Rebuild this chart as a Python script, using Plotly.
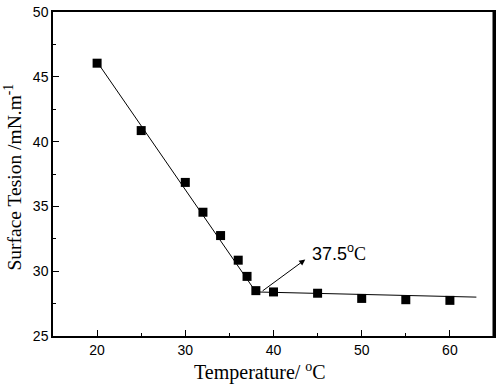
import plotly.graph_objects as go

temperature = [20, 25, 30, 32, 34, 36, 37, 38, 40, 45, 50, 55, 60]
surface_tension = [46.05, 40.85, 36.85, 34.55, 32.75, 30.85, 29.6, 28.5, 28.4, 28.3, 27.9, 27.8, 27.75]

fit1_x = [20, 38]
fit1_y = [46.15, 28.4]
fit2_x = [38, 63]
fit2_y = [28.4, 28.0]

arrow_tail = (38.6, 28.4)
arrow_head = (43.6, 30.9)
label_pos = (47.4, 31.45)

x_ticks = [20, 30, 40, 50, 60]
y_ticks = [25, 30, 35, 40, 45, 50]

fig = go.Figure()
fig.add_trace(go.Scatter(x=fit1_x, y=fit1_y, mode="lines",
                         line=dict(color="black", width=1), showlegend=False))
fig.add_trace(go.Scatter(x=fit2_x, y=fit2_y, mode="lines",
                         line=dict(color="black", width=1), showlegend=False))
fig.add_trace(go.Scatter(x=temperature, y=surface_tension, mode="markers",
                         marker=dict(symbol="square", size=9, color="black"),
                         showlegend=False))

fig.add_annotation(x=arrow_head[0], y=arrow_head[1], ax=arrow_tail[0], ay=arrow_tail[1],
                   xref="x", yref="y", axref="x", ayref="y", text="",
                   showarrow=True, arrowhead=2, arrowsize=1.2, arrowwidth=1, arrowcolor="black")
fig.add_annotation(x=label_pos[0], y=label_pos[1], xref="x", yref="y", showarrow=False,
                   text="37.5<sup>o</sup><span style='font-family:Liberation Serif'>C</span>",
                   font=dict(family="Liberation Sans", size=18, color="black"))

fig.add_annotation(x=0.47, y=-0.11, xref="paper", yref="paper", showarrow=False,
                   yanchor="middle", xanchor="center",
                   text="Temperature/ <sup>o</sup>C",
                   font=dict(family="Liberation Serif", size=20, color="black"))
fig.add_annotation(x=-0.09, y=0.49, xref="paper", yref="paper", showarrow=False,
                   textangle=-90, xanchor="center", yanchor="middle",
                   text="Surface Tesion /mN.m<sup>-1</sup>",
                   font=dict(family="Liberation Serif", size=19.5, color="black"))

# thicker right frame edge
fig.add_shape(type="line", xref="paper", yref="paper", x0=1, x1=1, y0=0, y1=1.005,
              line=dict(color="black", width=3))

fig.update_xaxes(range=[15, 65], tickvals=x_ticks, ticks="inside", ticklen=6,
                 tickwidth=1, tickcolor="black", showline=True, linecolor="black",
                 linewidth=1.5, mirror=True, showgrid=False, zeroline=False,
                 minor=dict(tickvals=[25, 35, 45, 55], ticks="inside", ticklen=3,
                            tickcolor="black", tickwidth=1),
                 tickfont=dict(family="Liberation Sans", size=14, color="black"))
fig.update_yaxes(range=[25, 50], tickvals=y_ticks, ticks="inside", ticklen=6,
                 tickwidth=1, tickcolor="black", showline=True, linecolor="black",
                 linewidth=1.5, mirror=True, showgrid=False, zeroline=False,
                 minor=dict(tickvals=[27.5, 32.5, 37.5, 42.5, 47.5], ticks="inside",
                            ticklen=3, tickcolor="black", tickwidth=1),
                 tickfont=dict(family="Liberation Sans", size=14, color="black"))

fig.update_layout(width=500, height=387, margin=dict(l=53, r=4, t=10, b=51),
                  plot_bgcolor="white", paper_bgcolor="white")

fig.write_html("out.html", config={"displayModeBar": False},
               post_script="document.body.style.margin='0';")
